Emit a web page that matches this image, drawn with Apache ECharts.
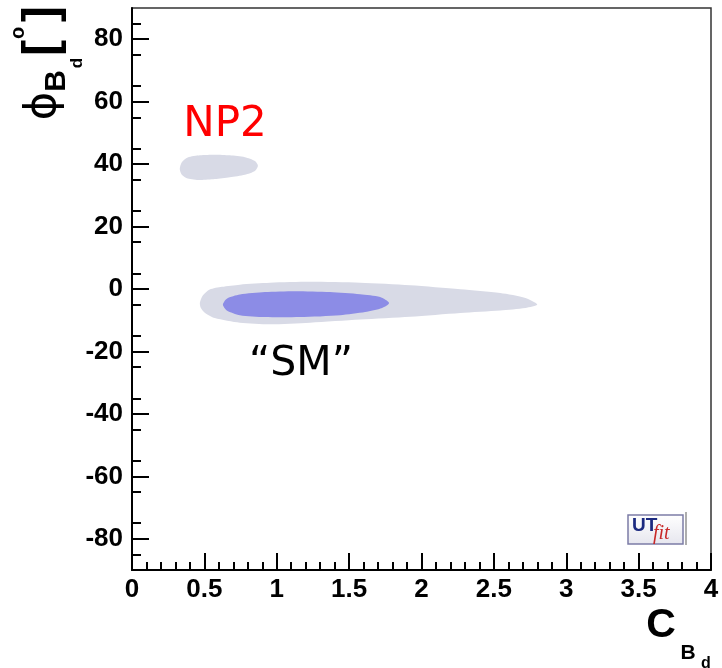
<!DOCTYPE html>
<html>
<head>
<meta charset="utf-8">
<script src="https://cdn.jsdelivr.net/npm/echarts@6/dist/echarts.min.js"></script>
<style>
  html, body { margin: 0; padding: 0; background: #fff; }
  #chart { width: 722px; height: 668px; }
</style>
</head>
<body>
<div id="chart"></div>
<script>
// Axis ranges and labelled ticks
const cRange = [0, 4];
const phiRange = [-90, 90];
const phiMajor = [-80, -60, -40, -20, 0, 20, 40, 60, 80];

// Allowed-region outlines, [C_Bd, phi_Bd (deg)]
const np2Region = [
  [0.330, 38.4], [0.344, 40.6], [0.385, 42.1], [0.469, 42.8], [0.572, 43.0],
  [0.676, 42.8], [0.780, 42.2], [0.849, 41.0], [0.870, 39.5], [0.849, 37.8],
  [0.780, 36.6], [0.676, 35.8], [0.572, 35.2], [0.469, 34.9], [0.385, 35.4],
  [0.344, 36.6]
];
const smOuter = [
  [0.469, -4.4], [0.489, -2.1], [0.537, -0.2], [0.621, 0.7], [0.745, 1.4],
  [0.953, 2.0], [1.230, 2.3], [1.576, 2.0], [1.922, 1.2], [2.268, -0.1],
  [2.544, -1.3], [2.718, -2.9], [2.800, -5.0], [2.718, -6.1], [2.544, -6.9],
  [2.268, -7.7], [1.922, -8.9], [1.576, -9.8], [1.230, -10.8], [0.953, -11.3],
  [0.745, -10.8], [0.572, -9.3], [0.503, -7.6], [0.475, -6.0]
];
const smInner = [
  [0.628, -5.0], [0.655, -3.1], [0.745, -1.8], [0.918, -1.0], [1.126, -0.7],
  [1.368, -1.0], [1.576, -1.7], [1.714, -2.6], [1.776, -4.5], [1.728, -6.1],
  [1.611, -7.4], [1.438, -8.4], [1.161, -9.0], [0.918, -9.0], [0.745, -8.4],
  [0.655, -6.9]
];

const GRAY = '#d8dae6';
const BLUE = '#8c8ce6';
const labelFont = { color: '#000', fontFamily: 'Liberation Sans', fontWeight: 'bold', fontSize: 26 };

function regionSeries(name, pts, color) {
  return {
    type: 'custom',
    name: name,
    coordinateSystem: 'cartesian2d',
    silent: true,
    data: pts,
    renderItem: function (params, api) {
      if (params.dataIndex !== 0) return null;
      return {
        type: 'polygon',
        shape: { points: pts.map(function (p) { return api.coord(p); }), smooth: 0.25 },
        style: { fill: color, stroke: null }
      };
    }
  };
}

const chart = echarts.init(document.getElementById('chart'), null, { renderer: 'canvas' });
const rot = Math.PI / 2;

chart.setOption({
  animation: false,
  backgroundColor: '#fff',
  grid: { left: 132, right: 11, top: 8, bottom: 98, show: true, borderColor: '#333', borderWidth: 1.5, backgroundColor: 'transparent' },
  xAxis: {
    type: 'value', min: cRange[0], max: cRange[1], interval: 0.5,
    axisLine: { show: true, onZero: false, lineStyle: { color: '#000', width: 2 } },
    axisTick: { show: true, inside: true, length: 17, lineStyle: { color: '#000', width: 2 } },
    minorTick: { show: true, splitNumber: 5, length: 8, lineStyle: { color: '#000', width: 2 } },
    splitLine: { show: false },
    axisLabel: Object.assign({ margin: 7, showMinLabel: true, showMaxLabel: true }, labelFont)
  },
  yAxis: {
    type: 'value', min: phiRange[0], max: phiRange[1], interval: 10,
    axisLine: { show: true, onZero: false, lineStyle: { color: '#000', width: 2 } },
    axisTick: { show: true, inside: true, length: 17, customValues: phiMajor, lineStyle: { color: '#000', width: 2 } },
    minorTick: { show: true, splitNumber: 2, length: 9, lineStyle: { color: '#000', width: 2 } },
    splitLine: { show: false },
    axisLabel: Object.assign({ margin: 9, customValues: phiMajor }, labelFont)
  },
  series: [
    regionSeries('NP2', np2Region, GRAY),
    regionSeries('SM outer', smOuter, GRAY),
    regionSeries('SM inner', smInner, BLUE)
  ],
  graphic: [
    // region annotations
    { type: 'text', x: 225, y: 125, style: { text: 'NP2', fill: '#ff0000', font: '42px "DejaVu Sans"', align: 'center', verticalAlign: 'middle' } },
    { type: 'text', x: 301, y: 364, style: { text: '\u201cSM\u201d', fill: '#000', font: '41px "DejaVu Sans"', align: 'center', verticalAlign: 'middle' } },

    // y-axis title: phi_{B_d} [deg]
    { type: 'text', x: 44, y: 106, rotation: rot, style: { text: '\u03d5', fill: '#000', font: '43px "DejaVu Sans"', align: 'center', verticalAlign: 'middle' } },
    { type: 'text', x: 57, y: 81, rotation: rot, style: { text: 'B', fill: '#000', font: 'bold 30px "Liberation Sans"', align: 'center', verticalAlign: 'middle' } },
    { type: 'text', x: 77, y: 63, rotation: rot, style: { text: 'd', fill: '#000', font: 'bold 17px "Liberation Sans"', align: 'center', verticalAlign: 'middle' } },
    { type: 'text', x: 43, y: 48, rotation: rot, style: { text: '[', fill: '#000', font: 'bold 48px "Liberation Sans"', align: 'center', verticalAlign: 'middle' } },
    { type: 'text', x: 18, y: 33, rotation: rot, style: { text: 'o', fill: '#000', font: 'bold 20px "Liberation Sans"', align: 'center', verticalAlign: 'middle' } },
    { type: 'text', x: 43, y: 14, rotation: rot, style: { text: ']', fill: '#000', font: 'bold 48px "Liberation Sans"', align: 'center', verticalAlign: 'middle' } },

    // x-axis title: C_{B_d}
    { type: 'text', x: 661, y: 626, style: { text: 'C', fill: '#000', font: 'bold 41px "Liberation Sans"', align: 'center', verticalAlign: 'middle' } },
    { type: 'text', x: 688, y: 653, style: { text: 'B', fill: '#000', font: 'bold 21px "Liberation Sans"', align: 'center', verticalAlign: 'middle' } },
    { type: 'text', x: 706, y: 664, style: { text: 'd', fill: '#000', font: 'bold 16px "Liberation Sans"', align: 'center', verticalAlign: 'middle' } },

    // UTfit badge
    { type: 'rect', shape: { x: 628, y: 515, width: 55, height: 29 },
      style: { fill: new echarts.graphic.LinearGradient(0, 0, 0, 1, [{ offset: 0, color: '#ffffff' }, { offset: 1, color: '#e6e6ee' }]), stroke: '#7c7ca6', lineWidth: 1.5 } },
    { type: 'line', shape: { x1: 686, y1: 512, x2: 686, y2: 545 }, style: { stroke: '#777', lineWidth: 1.2 } },
    { type: 'text', x: 632, y: 516, style: { text: 'UT', fill: '#1c2a80', font: 'bold 19px "Liberation Sans"' } },
    { type: 'text', x: 653, y: 524, style: { text: 'fit', fill: '#c82828', font: 'italic 20px "Liberation Serif"' } }
  ]
});
</script>
</body>
</html>
